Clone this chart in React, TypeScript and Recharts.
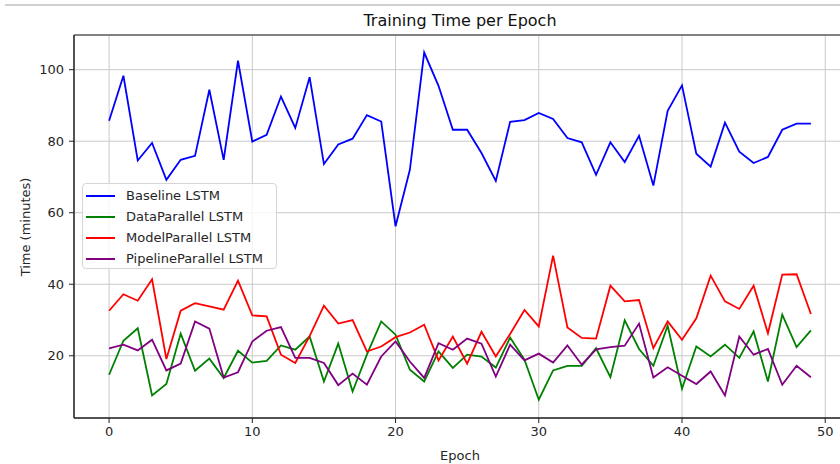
import React from 'react';
import { LineChart, Line, XAxis, YAxis, CartesianGrid, Legend, ReferenceArea } from 'recharts';

const epochs = [0, 1, 2, 3, 4, 5, 6, 7, 8, 9, 10, 11, 12, 13, 14, 15, 16, 17, 18, 19, 20, 21, 22, 23, 24, 25, 26, 27, 28, 29, 30, 31, 32, 33, 34, 35, 36, 37, 38, 39, 40, 41, 42, 43, 44, 45, 46, 47, 48, 49];

const baseline = [85.7, 98.3, 74.6, 79.5, 69.2, 74.8, 75.9, 94.4, 74.8, 102.5, 79.9, 81.8, 92.5, 83.7, 97.9, 73.6, 79.1, 80.7, 87.3, 85.5, 56.2, 72.0, 104.8, 95.5, 83.2, 83.2, 76.7, 68.9, 85.4, 85.9, 87.9, 86.2, 80.9, 79.7, 70.6, 79.7, 74.2, 81.5, 67.6, 88.5, 95.6, 76.5, 72.9, 85.2, 77.1, 73.9, 75.6, 83.2, 84.9, 84.9];

const dataParallel = [14.7, 24.2, 27.7, 8.9, 12.1, 26.2, 15.8, 19.2, 13.8, 21.4, 18.1, 18.6, 22.9, 21.7, 25.4, 12.8, 23.4, 10.0, 20.3, 29.6, 25.9, 16.1, 12.8, 21.2, 16.6, 20.3, 19.8, 16.7, 25.1, 18.9, 7.7, 15.9, 17.2, 17.2, 22.1, 14.0, 29.9, 21.9, 17.2, 28.4, 10.8, 22.6, 19.8, 23.1, 19.4, 26.8, 12.8, 31.5, 22.4, 27.1];

const modelParallel = [32.6, 37.2, 35.4, 41.4, 19.1, 32.6, 34.7, 33.8, 32.9, 41.0, 31.3, 31.0, 20.3, 18.0, 25.5, 34.0, 29.0, 30.0, 21.2, 22.6, 25.2, 26.5, 28.7, 18.7, 25.4, 17.8, 26.7, 19.8, 26.1, 32.8, 28.2, 48.0, 27.9, 25.0, 24.8, 39.6, 35.2, 35.6, 22.1, 29.6, 24.5, 30.5, 42.4, 35.2, 33.1, 39.6, 26.3, 42.7, 42.8, 31.7];

const pipelineParallel = [22.1, 23.1, 21.5, 24.5, 15.9, 17.8, 29.6, 27.6, 13.9, 15.4, 24.0, 27.0, 28.0, 19.4, 19.4, 18.0, 11.8, 15.0, 11.9, 19.8, 24.0, 18.4, 13.8, 23.5, 21.7, 24.8, 23.4, 14.2, 23.1, 18.7, 20.6, 18.1, 22.9, 17.5, 21.8, 22.4, 22.8, 29.0, 13.9, 16.8, 14.4, 12.1, 15.6, 8.9, 25.4, 20.3, 21.9, 11.9, 17.2, 14.0];

const xTicks = [0, 10, 20, 30, 40, 50];
const yTicks = [20, 40, 60, 80, 100];
const xDomain: [number, number] = [-2.45, 51.45];
const yDomain: [number, number] = [2.6, 109.7];

const seriesNames = ['Baseline LSTM', 'DataParallel LSTM', 'ModelParallel LSTM', 'PipelineParallel LSTM'];
const seriesKeys = ['baseline', 'dataParallel', 'modelParallel', 'pipelineParallel'];
const seriesColors = ['#0000ff', '#008000', '#ff0000', '#800080'];

const data = epochs.map((e, i) => ({
  epoch: e,
  baseline: baseline[i],
  dataParallel: dataParallel[i],
  modelParallel: modelParallel[i],
  pipelineParallel: pipelineParallel[i],
}));

const FONT = '"DejaVu Sans", sans-serif';
const TEXT = '#262626';

const LegendBox = () => (
  <div
    style={{
      boxSizing: 'border-box',
      width: 195,
      height: 86,
      padding: '1px 0 0 0',
      background: 'rgba(255,255,255,0.82)',
      border: '1px solid #d6d6d6',
      borderRadius: 4,
      fontFamily: FONT,
      fontSize: 13,
      color: TEXT,
    }}
  >
    {seriesNames.map((n, i) => (
      <div key={n} style={{ height: 21, display: 'flex', alignItems: 'center' }}>
        <div style={{ width: 29, height: 2, background: seriesColors[i], marginLeft: 3, marginRight: 11 }} />
        <span style={{ whiteSpace: 'nowrap' }}>{n}</span>
      </div>
    ))}
  </div>
);

export default function App() {
  return (
    <div style={{ position: 'absolute', left: 0, top: 0, width: 840, height: 464, overflow: 'hidden', background: '#fff' }}>
      <div style={{ position: 'absolute', left: 5, top: 4, width: 835, height: 2, background: '#d0d0d0' }} />
      <div
        style={{
          position: 'absolute',
          left: 74,
          width: 772,
          top: 11,
          height: 20,
          lineHeight: '20px',
          textAlign: 'center',
          fontFamily: FONT,
          fontSize: 16,
          color: '#111',
          zIndex: 2,
        }}
      >
        Training Time per Epoch
      </div>
      <LineChart width={860} height={464} data={data} margin={{ top: 35, right: 14, bottom: 0, left: 0 }}>
        <CartesianGrid stroke="#c9c9c9" strokeWidth={1} />
        <ReferenceArea x1={xDomain[0]} x2={xDomain[1]} y1={yDomain[0]} y2={yDomain[1]} fill="none" fillOpacity={0} stroke="#222" strokeWidth={1} strokeOpacity={1} />
        <XAxis
          dataKey="epoch"
          type="number"
          domain={xDomain}
          ticks={xTicks}
          allowDataOverflow
          height={46}
          stroke="#222"
          tickSize={5}
          tickMargin={4}
          tick={{ fill: TEXT, fontSize: 13, fontFamily: FONT }}
          label={{
            content: () => (
              <text x={460} y={455} textAnchor="middle" dominantBaseline="central" fill={TEXT} fontSize={13} fontFamily={FONT}>
                Epoch
              </text>
            ),
          }}
        />
        <YAxis
          type="number"
          domain={yDomain}
          ticks={yTicks}
          allowDataOverflow
          width={74}
          stroke="#222"
          tickSize={5}
          tickMargin={5}
          tick={{ fill: TEXT, fontSize: 13, fontFamily: FONT }}
          label={{
            content: () => (
              <text
                x={25}
                y={227}
                transform="rotate(-90, 25, 227)"
                textAnchor="middle"
                dominantBaseline="central"
                fill={TEXT}
                fontSize={13}
                fontFamily={FONT}
              >
                Time (minutes)
              </text>
            ),
          }}
        />
        <Legend
          layout="vertical"
          align="center"
          verticalAlign="middle"
          wrapperStyle={{ left: 82, top: 183, width: 195, height: 86 }}
          content={() => <LegendBox />}
        />
        {seriesKeys.map((k, i) => (
          <Line
            key={k}
            type="linear"
            dataKey={k}
            name={seriesNames[i]}
            stroke={seriesColors[i]}
            strokeWidth={1.8}
            dot={false}
            activeDot={false}
            isAnimationActive={false}
          />
        ))}
      </LineChart>
    </div>
  );
}
